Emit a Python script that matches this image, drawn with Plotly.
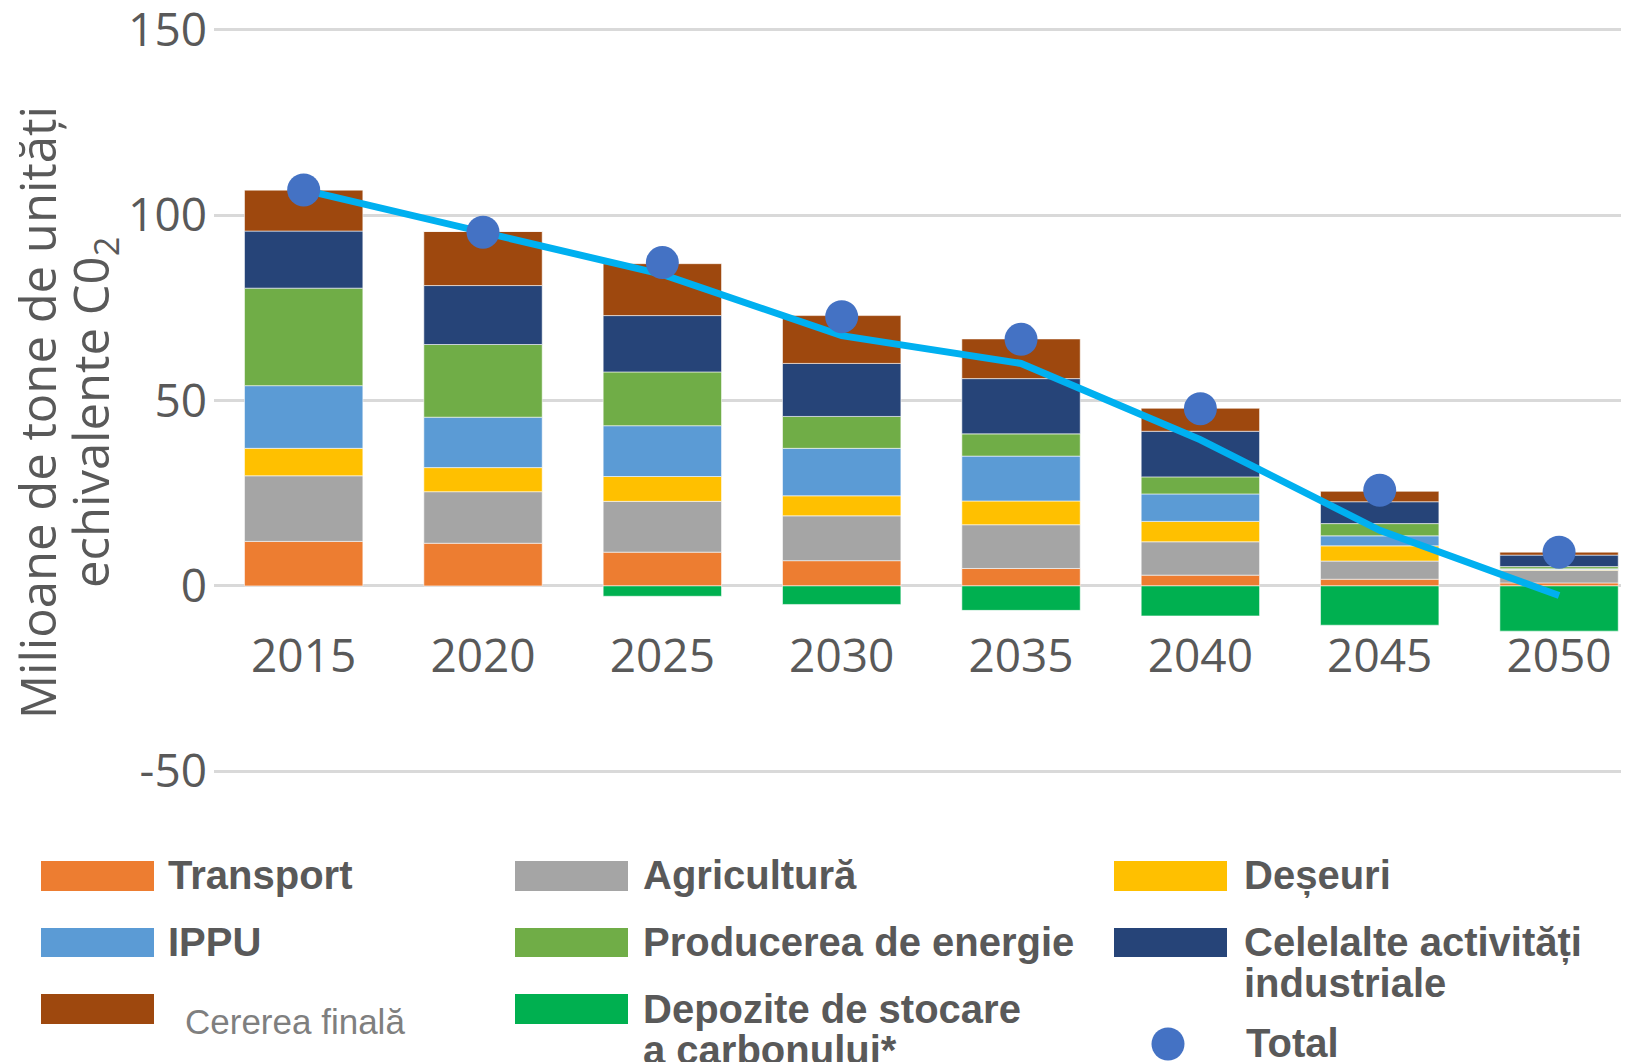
import plotly.graph_objects as go

# ---------------- data ----------------
years = ["2015", "2020", "2025", "2030", "2035", "2040", "2045", "2050"]

transport = [12.0, 11.5, 9.1, 6.8, 4.7, 2.9, 1.8, 0.8]
agricultura = [17.7, 13.9, 13.7, 12.1, 11.8, 9.0, 4.9, 3.4]
deseuri = [7.4, 6.5, 6.7, 5.4, 6.4, 5.5, 4.1, 0.2]
ippu = [16.9, 13.6, 13.7, 12.8, 12.1, 7.4, 2.7, 0.2]
energie = [26.3, 19.6, 14.5, 8.6, 6.0, 4.6, 3.3, 0.6]
celelalte = [15.4, 15.9, 15.2, 14.3, 14.9, 12.3, 5.9, 3.1]
cererea = [11.1, 14.6, 14.0, 12.9, 10.7, 6.2, 2.8, 0.8]
depozite = [0.0, 0.0, -2.8, -5.0, -6.6, -8.1, -10.6, -12.2]

total = [106.8, 95.4, 87.2, 72.6, 66.5, 47.8, 25.8, 9.1]
net = [106.8, 95.2, 84.0, 67.5, 60.0, 39.4, 15.0, -2.6]

ytick_vals = [-50, 0, 50, 100, 150]
ytick_text = ["-50", "0", "50", "100", "150"]

series_names = ["Transport", "Agricultură", "Deșeuri", "IPPU", "Producerea de energie",
                "Celelalte activități industriale", "Cererea finală",
                "Depozite de stocare a carbonului*"]
series_values = [transport, agricultura, deseuri, ippu, energie, celelalte, cererea, depozite]
series_colors = ["#ED7D31", "#A5A5A5", "#FFC000", "#5B9BD5", "#70AD47",
                 "#264478", "#9E480E", "#00B050"]
total_name = "Total"
total_color = "#4472C4"
net_color = "#00B0F0"

y_title_lines = ["Milioane de tone de unități", "echivalente C0<sub>2</sub>"]

# ---------------- figure ----------------
OFF = 8                      # page body margin in the browser
W, H = 1629 - OFF, 1062 - OFF
ML, MR, MT, MB = 214 - OFF, 0, 26 - OFF, 1062 - 775
PW, PH = W - ML - MR, H - MT - MB

def px_x(px):                # screen px -> paper
    return (px - OFF - ML) / PW

def px_y(py):
    return (H - MB - (py - OFF)) / PH

fig = go.Figure()
for name, vals, col in zip(series_names, series_values, series_colors):
    fig.add_bar(x=years, y=vals, name=name,
                marker=dict(color=col, line=dict(width=1, color="rgba(255,255,255,0.55)")))

fig.add_scatter(x=years, y=net, mode="lines", name="net",
                line=dict(color=net_color, width=7))
fig.add_scatter(x=years, y=total, mode="markers", name=total_name,
                marker=dict(size=33, color=total_color))

grey = "#595959"
fig.update_layout(
    width=W, height=H,
    margin=dict(l=ML, r=MR, t=MT, b=MB, autoexpand=False),
    barmode="relative", bargap=0.34,
    plot_bgcolor="white", paper_bgcolor="white",
    showlegend=False,
    xaxis=dict(type="category", range=[-0.5, 7.39], anchor="free", position=0.2,
               showgrid=False, showline=False, zeroline=False, ticks="",
               automargin=False,
               tickfont=dict(family="Open Sans", size=46, color=grey)),
    yaxis=dict(range=[-51, 151], tickvals=ytick_vals, ticktext=ytick_text,
               showgrid=True, gridcolor="#D9D9D9", gridwidth=3, zeroline=False,
               showline=False, ticks="", ticklabelstandoff=6, automargin=False,
               ticklabeloverflow="allow",
               tickfont=dict(family="Open Sans", size=46, color=grey)),
)

# y-axis title (two rotated lines)
for line_text, cx in zip(y_title_lines, [37, 93]):
    fig.add_annotation(text=line_text, xref="paper", yref="paper",
                       x=px_x(cx), y=px_y(413), xanchor="center", yanchor="middle",
                       textangle=-90, showarrow=False,
                       font=dict(family="Open Sans", size=49, color=grey))

# ---------------- manual legend ----------------
col_sw_x = [41, 515, 1114]
col_tx_x = [166, 641, 1242]
row_sw_y = [(861, 891), (928, 957), (994, 1024)]
row_tx_y = [875, 942, 1009]
legend_pos = [(0, 0), (1, 0), (2, 0), (0, 1), (1, 1), (2, 1), (0, 2), (1, 2)]
legend_lines = [["Transport"], ["Agricultură"], ["Deșeuri"], ["IPPU"],
                ["Producerea de energie"], ["Celelalte activități", "industriale"],
                ["Cererea finală"], ["Depozite de stocare", "a carbonului*"]]

for (c, r), lines, col in zip(legend_pos, legend_lines, series_colors):
    y0, y1 = row_sw_y[r]
    fig.add_shape(type="rect", xref="paper", yref="paper",
                  x0=px_x(col_sw_x[c]), x1=px_x(col_sw_x[c] + 113),
                  y0=px_y(y1), y1=px_y(y0), fillcolor=col, line=dict(width=0))
    if lines == ["Cererea finală"]:
        fig.add_annotation(text=lines[0], xref="paper", yref="paper",
                           x=px_x(183), y=px_y(1021), xanchor="left", yanchor="middle",
                           showarrow=False,
                           font=dict(family="Liberation Sans", size=35, color="#7F7F7F"))
        continue
    for k, t in enumerate(lines):
        fig.add_annotation(text=t, xref="paper", yref="paper",
                           x=px_x(col_tx_x[c]), y=px_y(row_tx_y[r] + 41 * k),
                           xanchor="left", yanchor="middle", showarrow=False,
                           font=dict(family="Liberation Sans", size=40, color=grey,
                                     weight="bold"))

# Total legend entry
cx, cy, rad = 1168, 1044, 16.5
fig.add_shape(type="circle", xref="paper", yref="paper",
              x0=px_x(cx - rad), x1=px_x(cx + rad), y0=px_y(cy + rad), y1=px_y(cy - rad),
              fillcolor=total_color, line=dict(width=0))
fig.add_annotation(text=total_name, xref="paper", yref="paper",
                   x=px_x(1244), y=px_y(1043), xanchor="left", yanchor="middle",
                   showarrow=False,
                   font=dict(family="Liberation Sans", size=40, color=grey, weight="bold"))

fig.write_html("out.html")
